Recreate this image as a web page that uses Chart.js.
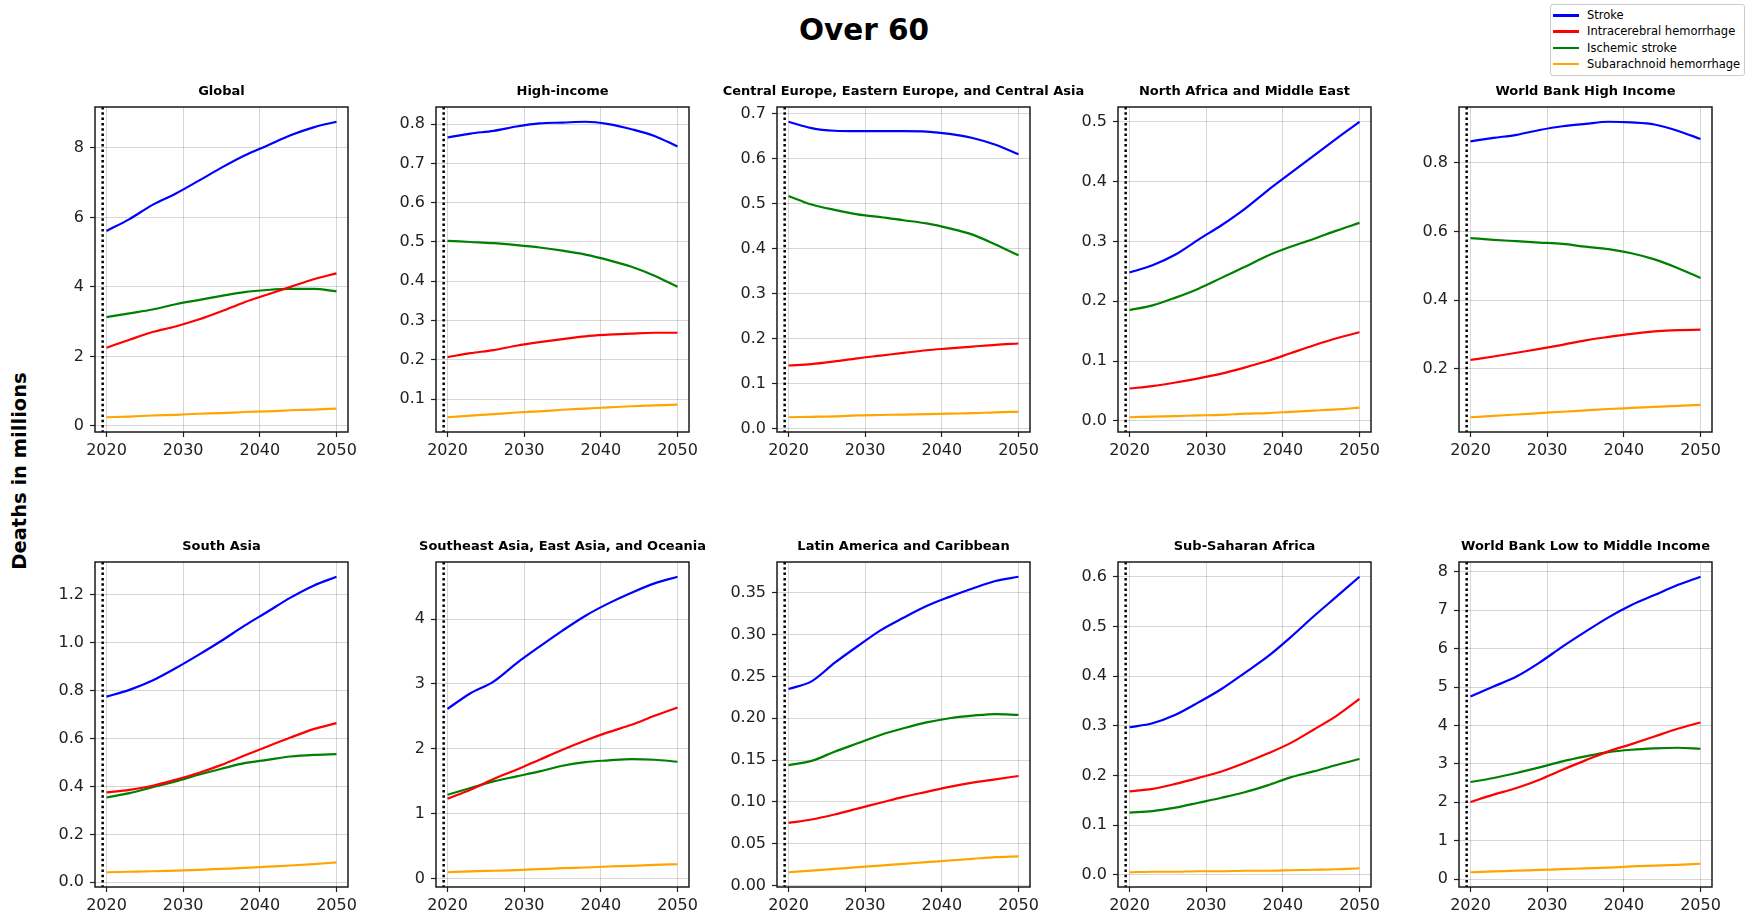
<!DOCTYPE html>
<html>
<head>
<meta charset="utf-8">
<title>Over 60</title>
<script src="https://cdn.jsdelivr.net/npm/chart.js@4"></script>
<style>
  html, body { margin: 0; padding: 0; background: #fff; overflow: hidden; }
  body { width: 1754px; height: 920px; position: relative; font-family: 'DejaVu Sans', sans-serif; color: #000; }
  canvas { position: absolute; }
  #title { position: absolute; left: 664px; width: 400px; top: 14px; text-align: center; font-weight: bold; font-size: 29.5px; line-height: 32px; }
  #ylabel { position: absolute; left: -130px; top: 459px; width: 300px; height: 24px; line-height: 24px; text-align: center; font-weight: bold; font-size: 19.5px; transform: rotate(-90deg); }
  #legend { position: absolute; left: 1550px; top: 4px; width: 195px; height: 72px; border: 1px solid #ccc; border-radius: 3px; box-sizing: border-box; background: #fff; }
  .row { position: absolute; left: 0; height: 16px; font-size: 11.5px; line-height: 16px; white-space: nowrap; }
  .swatch { position: absolute; left: 2px; top: 7px; width: 26px; height: 2.5px; }
  .lbl { position: absolute; left: 36px; top: 0; }
</style>
</head>
<body>
<div id="title">Over 60</div>
<div id="ylabel">Deaths in millions</div>
<div id="legend"></div>
<script>
// data, every third year
const years = [2020, 2023, 2026, 2029, 2032, 2035, 2038, 2041, 2044, 2047, 2050];
const regions = ['Global', 'High-income', 'Central Europe, Eastern Europe, and Central Asia',
  'North Africa and Middle East', 'World Bank High Income', 'South Asia',
  'Southeast Asia, East Asia, and Oceania', 'Latin America and Caribbean',
  'Sub-Saharan Africa', 'World Bank Low to Middle Income'];
const causes = ['Stroke', 'Intracerebral hemorrhage', 'Ischemic stroke', 'Subarachnoid hemorrhage'];

// one row per region, same order as regions
const stroke = [
  [5.61, 5.95, 6.36, 6.68, 7.05, 7.43, 7.78, 8.07, 8.36, 8.59, 8.75],
  [0.766, 0.776, 0.783, 0.794, 0.802, 0.804, 0.806, 0.800, 0.787, 0.770, 0.743],
  [0.682, 0.668, 0.662, 0.661, 0.661, 0.661, 0.660, 0.655, 0.646, 0.631, 0.610],
  [0.248, 0.260, 0.278, 0.303, 0.327, 0.354, 0.385, 0.414, 0.443, 0.472, 0.500],
  [0.863, 0.873, 0.882, 0.896, 0.907, 0.914, 0.920, 0.918, 0.912, 0.894, 0.870],
  [0.775, 0.803, 0.842, 0.893, 0.949, 1.008, 1.071, 1.129, 1.188, 1.238, 1.275],
  [2.615, 2.856, 3.036, 3.318, 3.574, 3.821, 4.051, 4.241, 4.405, 4.549, 4.651],
  [0.235, 0.244, 0.266, 0.286, 0.305, 0.320, 0.334, 0.345, 0.355, 0.364, 0.369],
  [0.297, 0.305, 0.322, 0.347, 0.374, 0.406, 0.439, 0.478, 0.520, 0.560, 0.600],
  [4.753, 5.013, 5.273, 5.636, 6.052, 6.442, 6.814, 7.134, 7.394, 7.654, 7.870]
];
const ich = [
  [2.25, 2.48, 2.70, 2.86, 3.06, 3.30, 3.56, 3.78, 4.00, 4.22, 4.39],
  [0.207, 0.217, 0.225, 0.236, 0.245, 0.253, 0.260, 0.264, 0.267, 0.269, 0.269],
  [0.140, 0.143, 0.149, 0.156, 0.162, 0.168, 0.174, 0.178, 0.182, 0.186, 0.189],
  [0.054, 0.058, 0.064, 0.071, 0.079, 0.089, 0.100, 0.113, 0.126, 0.138, 0.148],
  [0.226, 0.236, 0.247, 0.258, 0.270, 0.283, 0.293, 0.302, 0.309, 0.313, 0.314],
  [0.375, 0.386, 0.403, 0.428, 0.456, 0.490, 0.529, 0.567, 0.604, 0.639, 0.664],
  [1.231, 1.369, 1.533, 1.677, 1.831, 1.985, 2.128, 2.256, 2.369, 2.508, 2.636],
  [0.075, 0.079, 0.085, 0.092, 0.099, 0.106, 0.112, 0.118, 0.123, 0.127, 0.131],
  [0.168, 0.173, 0.183, 0.195, 0.208, 0.225, 0.244, 0.265, 0.292, 0.320, 0.354],
  [2.009, 2.199, 2.372, 2.589, 2.848, 3.091, 3.325, 3.515, 3.714, 3.913, 4.078]
];
const ischemic = [
  [3.13, 3.24, 3.35, 3.50, 3.62, 3.74, 3.85, 3.91, 3.94, 3.94, 3.87],
  [0.503, 0.500, 0.497, 0.492, 0.486, 0.478, 0.468, 0.454, 0.437, 0.414, 0.386],
  [0.517, 0.498, 0.486, 0.476, 0.470, 0.463, 0.456, 0.445, 0.431, 0.409, 0.385],
  [0.185, 0.193, 0.206, 0.221, 0.239, 0.257, 0.276, 0.291, 0.304, 0.318, 0.331],
  [0.581, 0.576, 0.572, 0.568, 0.564, 0.556, 0.549, 0.537, 0.519, 0.494, 0.465],
  [0.354, 0.372, 0.397, 0.421, 0.449, 0.474, 0.497, 0.511, 0.525, 0.532, 0.535],
  [1.292, 1.395, 1.497, 1.574, 1.651, 1.738, 1.795, 1.821, 1.841, 1.831, 1.800],
  [0.144, 0.149, 0.160, 0.170, 0.180, 0.188, 0.195, 0.200, 0.203, 0.205, 0.204],
  [0.125, 0.128, 0.135, 0.145, 0.155, 0.166, 0.180, 0.196, 0.208, 0.221, 0.233],
  [2.528, 2.632, 2.762, 2.909, 3.065, 3.195, 3.307, 3.368, 3.403, 3.420, 3.394]
];
const sah = [
  [0.25, 0.27, 0.30, 0.32, 0.35, 0.37, 0.40, 0.42, 0.45, 0.47, 0.50],
  [0.054, 0.058, 0.062, 0.066, 0.069, 0.073, 0.076, 0.079, 0.082, 0.084, 0.086],
  [0.025, 0.026, 0.027, 0.029, 0.030, 0.031, 0.032, 0.033, 0.034, 0.036, 0.037],
  [0.006, 0.007, 0.008, 0.009, 0.010, 0.012, 0.013, 0.015, 0.017, 0.019, 0.022],
  [0.059, 0.063, 0.067, 0.071, 0.075, 0.079, 0.083, 0.086, 0.089, 0.092, 0.095],
  [0.042, 0.044, 0.046, 0.049, 0.052, 0.056, 0.060, 0.065, 0.070, 0.076, 0.083],
  [0.097, 0.110, 0.120, 0.130, 0.145, 0.160, 0.170, 0.185, 0.195, 0.210, 0.220],
  [0.016, 0.018, 0.020, 0.022, 0.024, 0.026, 0.028, 0.030, 0.032, 0.034, 0.035],
  [0.005, 0.006, 0.006, 0.007, 0.007, 0.008, 0.008, 0.009, 0.010, 0.011, 0.013],
  [0.18, 0.20, 0.22, 0.24, 0.26, 0.28, 0.30, 0.33, 0.35, 0.37, 0.40]
];

const xTicks = [2020, 2030, 2040, 2050];
const yTicks = [
  [0, 2, 4, 6, 8],
  [0.1, 0.2, 0.3, 0.4, 0.5, 0.6, 0.7, 0.8],
  [0, 0.1, 0.2, 0.3, 0.4, 0.5, 0.6, 0.7],
  [0, 0.1, 0.2, 0.3, 0.4, 0.5],
  [0.2, 0.4, 0.6, 0.8],
  [0, 0.2, 0.4, 0.6, 0.8, 1.0, 1.2],
  [0, 1, 2, 3, 4],
  [0, 0.05, 0.1, 0.15, 0.2, 0.25, 0.3, 0.35],
  [0, 0.1, 0.2, 0.3, 0.4, 0.5, 0.6],
  [0, 1, 2, 3, 4, 5, 6, 7, 8]
];
const yDecimals = [0, 1, 1, 1, 1, 1, 0, 2, 1, 0];
const forecastStart = 2019.5;

const colors = ['#0000ff', '#ff0000', '#008000', '#ffa500'];

// layout (px)
const frameLefts = [95, 436, 777, 1118, 1459];
const frameTops = [107, 562];
const FRAME_W = 253, FRAME_H = 325;
const PAD_L = 70, PAD_R = 70, PAD_T = 47, PAD_B = 34;

// legend
const legend = document.getElementById('legend');
causes.forEach((c, k) => {
  const row = document.createElement('div');
  row.className = 'row';
  row.style.top = (2 + k * 16.3) + 'px';
  row.innerHTML = '<span class="swatch" style="background:' + colors[k] + '"></span><span class="lbl">' + c + '</span>';
  legend.appendChild(row);
});

// matplotlib style box + dotted line at the start of forecast
const framePlugin = {
  id: 'frame',
  afterDatasetsDraw(chart) {
    const { ctx, chartArea: a, scales } = chart;
    const x = scales.x.getPixelForValue(forecastStart);
    ctx.save();
    ctx.strokeStyle = '#000';
    ctx.lineWidth = 2.5;
    ctx.setLineDash([2.5, 2.8]);
    ctx.beginPath();
    ctx.moveTo(x, a.top);
    ctx.lineTo(x, a.bottom);
    ctx.stroke();
    ctx.restore();
  },
  afterDraw(chart) {
    const { ctx, chartArea: a } = chart;
    ctx.save();
    ctx.strokeStyle = '#1a1a1a';
    ctx.lineWidth = 1.5;
    ctx.strokeRect(a.left, a.top, a.right - a.left, a.bottom - a.top);
    ctx.restore();
  }
};

const tickFont = { family: 'DejaVu Sans', size: 16 };
const gridOpts = { color: 'rgba(0,0,0,0.16)', lineWidth: 1, tickColor: '#222', tickLength: 5, tickWidth: 1.2 };

const xPad = (years[years.length - 1] - years[0]) * 0.05;
const xMin = years[0] - xPad, xMax = years[years.length - 1] + xPad;

regions.forEach((name, i) => {
  const r = Math.floor(i / 5), c = i % 5;
  const w = PAD_L + FRAME_W + PAD_R, h = PAD_T + FRAME_H + PAD_B;
  const canvas = document.createElement('canvas');
  canvas.width = w; canvas.height = h;
  canvas.style.left = (frameLefts[c] - PAD_L) + 'px';
  canvas.style.top = (frameTops[r] - PAD_T) + 'px';
  canvas.style.width = w + 'px';
  canvas.style.height = h + 'px';
  document.body.appendChild(canvas);

  const series = [stroke[i], ich[i], ischemic[i], sah[i]];
  const all = series.flat();
  const lo = Math.min(...all), hi = Math.max(...all);
  const m = (hi - lo) * 0.05;

  new Chart(canvas, {
    type: 'line',
    data: {
      datasets: series.map((vals, k) => ({
        label: causes[k],
        data: years.map((x, j) => ({ x: x, y: vals[j] })),
        borderColor: colors[k],
        borderWidth: 2.2,
        pointRadius: 0,
        cubicInterpolationMode: 'monotone',
        fill: false
      }))
    },
    options: {
      responsive: false,
      animation: false,
      devicePixelRatio: 1,
      layout: { padding: 0 },
      plugins: {
        legend: { display: false },
        tooltip: { enabled: false },
        title: {
          display: true, text: name, color: '#000',
          font: { family: 'DejaVu Sans', size: 13, weight: 'bold', lineHeight: 1.2 },
          padding: { top: 24.2, bottom: 7.2 }
        }
      },
      scales: {
        x: {
          type: 'linear', min: xMin, max: xMax, bounds: 'data',
          afterBuildTicks: s => { s.ticks = xTicks.map(v => ({ value: v })); },
          afterFit: s => { s.height = PAD_B; },
          ticks: { font: tickFont, color: '#222', padding: 4, maxRotation: 0, callback: v => String(v) },
          grid: gridOpts,
          border: { display: false }
        },
        y: {
          type: 'linear', min: lo - m, max: hi + m, bounds: 'data',
          afterBuildTicks: s => { s.ticks = yTicks[i].map(v => ({ value: v })); },
          afterFit: s => { s.width = PAD_L; },
          ticks: { font: tickFont, color: '#222', padding: 6, callback: v => v.toFixed(yDecimals[i]) },
          grid: gridOpts,
          border: { display: false }
        },
        // empty right-hand scale: keeps the plot box centred under the title
        spacer: {
          type: 'linear', position: 'right', display: true,
          afterFit: s => { s.width = PAD_R; },
          ticks: { display: false },
          grid: { display: false },
          border: { display: false }
        }
      }
    },
    plugins: [framePlugin]
  });
});
</script>
</body>
</html>
